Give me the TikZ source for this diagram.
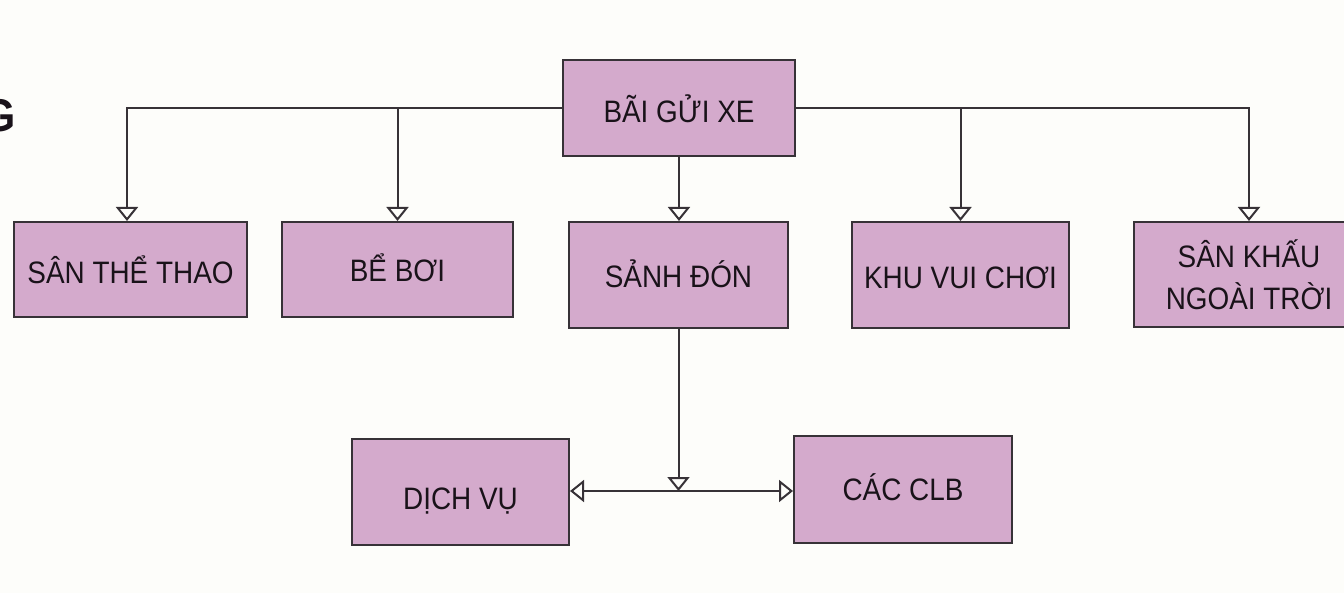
\documentclass[tikz,border=0pt]{standalone}
\usepackage{fontspec}
\setmainfont{Liberation Sans}[FakeStretch=0.9]
\usetikzlibrary{arrows.meta}
\definecolor{boxfill}{RGB}{212,170,204}
\definecolor{edgecol}{RGB}{55,50,55}
\definecolor{bgcol}{RGB}{253,253,250}
\definecolor{ink}{RGB}{25,18,25}
\begin{document}
\begin{tikzpicture}[x=1pt,y=-1pt,
  box/.style={draw=edgecol,line width=2pt,fill=boxfill,inner sep=0pt,
    font=\fontsize{31}{36}\selectfont,text=ink},
  lab/.style={text height=#1,text depth=0pt},
  conn/.style={draw=edgecol,line width=2pt},
  arr/.style={conn,-{Triangle[open,length=14pt,width=22pt,line width=2pt]}}]
\fill[bgcol] (0,0) rectangle (1344,593);
\useasboundingbox (0,0) rectangle (1344,593);

\node[anchor=east,inner sep=0pt,font=\bfseries\fontsize{46}{46}\selectfont,text=ink] (g) at (16,116) {G};

\node[box,lab=30pt,minimum width=232pt,minimum height=96pt] (top) at (679,108) {BÃI GỬI XE};
\node[box,lab=28pt,minimum width=233pt,minimum height=95pt] (b1) at (130.5,269.5) {SÂN THỂ THAO};
\node[box,lab=24pt,minimum width=231pt,minimum height=95pt] (b2) at (397.5,269.5) {BỂ BƠI};
\node[box,lab=26pt,minimum width=219pt,minimum height=106pt] (b3) at (678.5,275) {SẢNH ĐÓN};
\node[box,lab=28pt,minimum width=217pt,minimum height=106pt] (b4) at (960.5,275) {KHU VUI CHƠI};
\node[box,align=center,font=\fontsize{31}{42}\selectfont,minimum width=230pt,minimum height=105pt] (b5) at (1249,274.5) {SÂN KHẤU\\NGOÀI TRỜI};
\node[box,lab=34pt,minimum width=217pt,minimum height=106pt] (b6) at (460.5,492) {DỊCH VỤ};
\node[box,lab=22pt,minimum width=218pt,minimum height=107pt] (b7) at (903,489.5) {CÁC CLB};

\draw[arr] (top.west) -| ([xshift=-3.5pt]b1.north);
\draw[arr] (top.west) -| (b2.north);
\draw[arr] (top.south) -- (top.south |- b3.north);
\draw[arr] (top.east) -| (b4.north);
\draw[arr] (top.east) -| (b5.north);
\coordinate (j) at (679,491);
\draw[arr] (b3.south) -- (b3.south |- j);
\draw[arr] (j) -- (j -| b6.east);
\draw[arr] (j) -- (j -| b7.west);
\end{tikzpicture}
\end{document}
